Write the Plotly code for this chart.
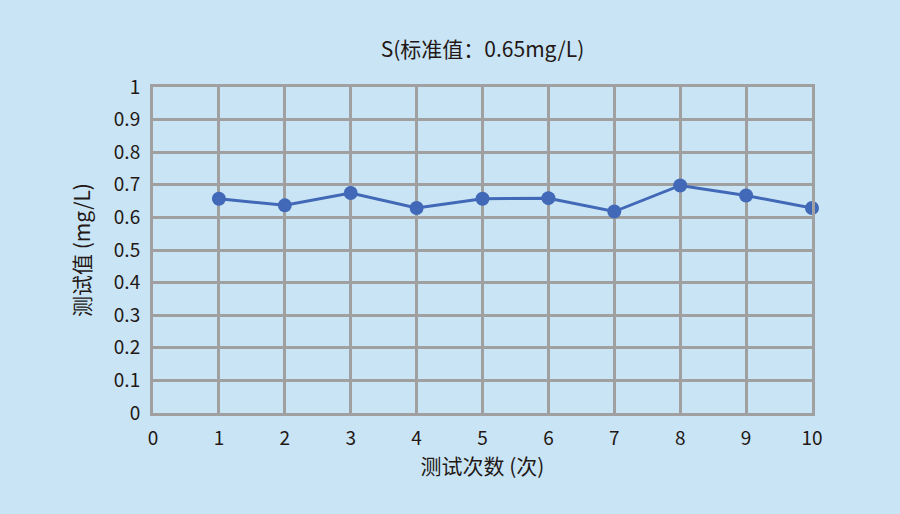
import plotly.graph_objects as go

runs = [1, 2, 3, 4, 5, 6, 7, 8, 9, 10]
values = [0.657, 0.637, 0.675, 0.629, 0.657, 0.659, 0.618, 0.698, 0.667, 0.629]
x_ticks = list(range(0, 11))
y_ticks = [0, 0.1, 0.2, 0.3, 0.4, 0.5, 0.6, 0.7, 0.8, 0.9, 1]
y_tick_text = ["0", "0.1", "0.2", "0.3", "0.4", "0.5", "0.6", "0.7", "0.8", "0.9", "1"]

bg = "#C9E5F5"
grid = "#A0A0A0"
txt = "#231815"
font = "Noto Sans CJK SC"

fig = go.Figure()
fig.add_trace(go.Scatter(
    x=runs, y=values, mode="lines+markers",
    line=dict(color="#4169B7", width=3),
    marker=dict(color="#4169B7", size=14),
    showlegend=False, cliponaxis=False,
))

fig.update_layout(
    width=900, height=514,
    paper_bgcolor=bg, plot_bgcolor=bg,
    margin=dict(l=153, r=88, t=87, b=101),
    font=dict(family=font, color=txt, size=19),
    title=dict(text="S(标准值：0.65mg/L)", x=0.5, xref="paper", xanchor="center",
               y=1 - 50 / 514, yref="container", yanchor="middle",
               font=dict(size=21, family=font, color=txt)),
)

fig.update_xaxes(
    range=[0, 10], tickvals=x_ticks, ticktext=[str(v) for v in x_ticks],
    showgrid=True, gridcolor=grid, gridwidth=3,
    showline=True, linecolor=grid, linewidth=3, mirror=True,
    zeroline=False, ticks="", ticklabelstandoff=6,
    title=dict(text="测试次数 (次)", standoff=6, font=dict(size=21)),
)
fig.update_yaxes(
    range=[0, 1], tickvals=y_ticks, ticktext=y_tick_text,
    showgrid=True, gridcolor=grid, gridwidth=3,
    showline=True, linecolor=grid, linewidth=3, mirror=True,
    zeroline=False, ticks="", ticklabelstandoff=6,
    title=dict(text="测试值 (mg/L)", standoff=18, font=dict(size=21)),
)

fig.write_html("out.html", config={"displayModeBar": False},
               post_script="document.body.style.margin='0';")
